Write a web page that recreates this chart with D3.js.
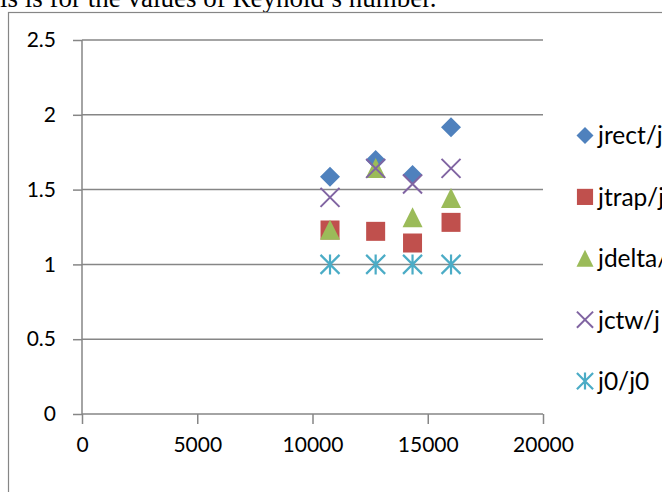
<!DOCTYPE html>
<html>
<head>
<meta charset="utf-8">
<script src="https://cdn.jsdelivr.net/npm/d3@7"></script>
<style>
  html, body { margin: 0; padding: 0; background: #fff; overflow: hidden; }
  svg { display: block; }
</style>
</head>
<body>
<svg id="chart" width="662" height="492"></svg>
<script>
// ---- data ----
const reynolds = [10760, 12740, 14340, 16010];
const jrect  = [1.586, 1.698, 1.598, 1.916];
const jtrap  = [1.230, 1.221, 1.143, 1.281];
const jdelta = [1.232, 1.645, 1.315, 1.444];
const jctw   = [1.448, 1.642, 1.537, 1.642];
const j0     = [1.0, 1.0, 1.0, 1.0];
const seriesNames = ["jrect/j", "jtrap/j", "jdelta/j", "jctw/j", "j0/j0"];
const xTicks = [0, 5000, 10000, 15000, 20000];
const yTicks = [0, 0.5, 1, 1.5, 2, 2.5];
const caption = "is is for the values of Reynold\u2019s number.";

const seriesData = [jrect, jtrap, jdelta, jctw, j0];
const colors = ["#4F81BD", "#C0504D", "#9BBB59", "#8064A2", "#4BACC6"];
const shapes = ["diamond", "square", "triangle", "x", "star"];

const svg = d3.select("#chart");
const gridColor = "#868686";
const font = "Lato, 'Open Sans', sans-serif";

// caption text (clipped at top)
svg.append("text")
  .attr("x", 0).attr("y", 6.5)
  .attr("font-family", "'Liberation Serif', 'Times New Roman', serif")
  .attr("font-size", 27)
  .attr("fill", "#000")
  .text(caption);

// outer chart border
svg.append("rect")
  .attr("x", 8.5).attr("y", 12.5)
  .attr("width", 800).attr("height", 600)
  .attr("fill", "none").attr("stroke", gridColor).attr("stroke-width", 1.2);

const x = d3.scaleLinear().domain([0, 20000]).range([82, 543]);
const y = d3.scaleLinear().domain([0, 2.5]).range([414, 40]);

// gridlines (horizontal)
svg.append("g").selectAll("line").data(yTicks.filter(d => d > 0)).join("line")
  .attr("x1", x(0)).attr("x2", x(20000))
  .attr("y1", d => y(d)).attr("y2", d => y(d))
  .attr("stroke", gridColor).attr("stroke-width", 1.5);

// y axis
const yAxis = svg.append("g").attr("transform", `translate(${x(0)},0)`)
  .call(d3.axisLeft(y).tickValues(yTicks).tickSize(9).tickPadding(17).tickFormat(d3.format("")));
// x axis
const xAxis = svg.append("g").attr("transform", `translate(0,${y(0)})`)
  .call(d3.axisBottom(x).tickValues(xTicks).tickSize(10).tickPadding(13).tickFormat(d => String(d)));

[yAxis, xAxis].forEach(a => {
  a.select(".domain").attr("stroke", gridColor).attr("stroke-width", 1.5);
  a.selectAll(".tick line").attr("stroke", gridColor).attr("stroke-width", 1.5);
  a.selectAll(".tick text").attr("font-family", font).attr("font-size", 21).attr("fill", "#000");
});
yAxis.select(".domain").attr("d", `M0,${y(0)}V${y(2.5)}`);
xAxis.select(".domain").attr("d", `M${x(0)},0H${x(20000)}`);

// marker drawing
function drawMarker(g, shape, color, s) {
  if (shape === "diamond") {
    g.append("path").attr("d", `M0,${-s}L${s},0L0,${s}L${-s},0Z`).attr("fill", color);
  } else if (shape === "square") {
    g.append("rect").attr("x", -s * 0.95).attr("y", -s * 0.95).attr("width", s * 1.9).attr("height", s * 1.9).attr("fill", color);
  } else if (shape === "triangle") {
    g.append("path").attr("d", `M0,${-s}L${s},${s}L${-s},${s}Z`).attr("fill", color);
  } else if (shape === "x") {
    const k = s * 0.95;
    g.append("path").attr("d", `M${-k},${-k}L${k},${k}M${-k},${k}L${k},${-k}`)
      .attr("stroke", color).attr("stroke-width", 2).attr("fill", "none");
  } else if (shape === "star") {
    const k = s * 0.95;
    g.append("path").attr("d", `M${-k},${-k}L${k},${k}M${-k},${k}L${k},${-k}M0,${-s}L0,${s}`)
      .attr("stroke", color).attr("stroke-width", 2.2).attr("fill", "none");
  }
}

// points
seriesData.forEach((vals, si) => {
  const g = svg.append("g");
  vals.forEach((v, i) => {
    const m = g.append("g").attr("transform", `translate(${x(reynolds[i])},${y(v)})`);
    drawMarker(m, shapes[si], colors[si], 10);
  });
});

// legend
const legend = svg.append("g");
seriesNames.forEach((name, i) => {
  const ly = 135.5 + i * 61.4;
  const m = legend.append("g").attr("transform", `translate(585,${ly})`);
  drawMarker(m, shapes[i], colors[i], 8.5);
  legend.append("text")
    .attr("x", 598).attr("y", ly).attr("dy", "0.36em")
    .attr("font-family", font).attr("font-size", 24.5).attr("fill", "#000")
    .text(name);
});
</script>
</body>
</html>
